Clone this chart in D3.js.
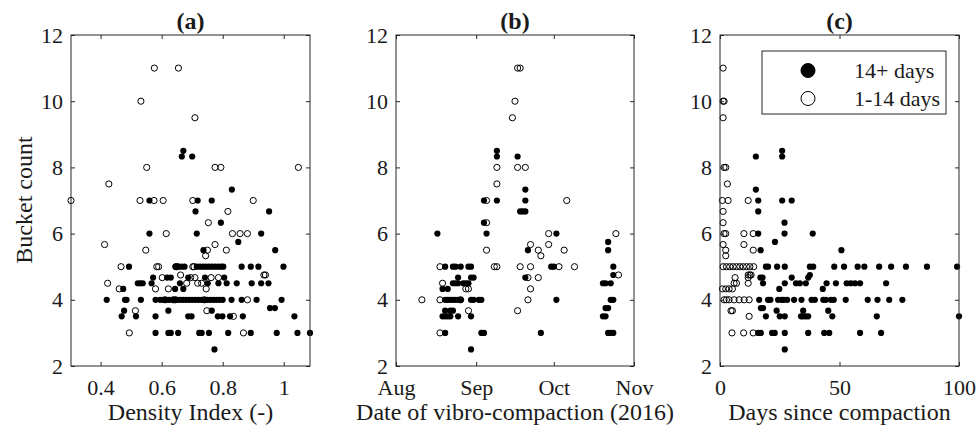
<!DOCTYPE html>
<html>
<head>
<meta charset="utf-8">
<script src="https://cdn.jsdelivr.net/npm/d3@7"></script>
<style>
  body { margin: 0; background: #fff; }
  svg text { font-family: "Liberation Serif", "Times New Roman", serif; fill: #1a1a1a; }
</style>
</head>
<body>
<svg id="chart" width="976" height="431"></svg>
<script>
// ---- data ----
var yTicks = [2, 4, 6, 8, 10, 12];
var densityTicks = [0.4, 0.6, 0.8, 1];
var dateTicks = ["2016-08-01", "2016-09-01", "2016-10-01", "2016-11-01"];
var daysTicks = [0, 50, 100];
var panelTitles = ["(a)", "(b)", "(c)"];
var xLabels = ["Density Index (-)", "Date of vibro-compaction (2016)", "Days since compaction"];
var legendLabels = ["14+ days", "1-14 days"];

// (a) density index vs bucket count
var densityFilled = [
  [0.58,3],[0.622,3],[0.63,3],[0.654,3],[0.723,3],[0.731,3],[0.755,3],[0.818,3],[0.892,3],[0.977,3],[1.045,3],[1.086,3],
  [0.773,2.5],
  [0.469,3.5],[0.516,3.5],[0.58,3.5],[0.687,3.5],[0.698,3.5],[0.784,3.5],[0.799,3.5],[0.824,3.5],[0.866,3.5],[1.035,3.5],
  [0.477,3.67],[0.622,3.67],[0.764,3.67],[0.955,3.75],[0.971,3.75],
  [0.42,4],[0.48,4],[0.485,4],[0.532,4],[0.58,4],[0.595,4],[0.605,4],[0.615,4],[0.625,4],[0.64,4],[0.65,4],[0.66,4],
  [0.67,4],[0.68,4],[0.69,4],[0.7,4],[0.71,4],[0.72,4],[0.73,4],[0.74,4],[0.75,4],[0.76,4],[0.77,4],[0.78,4],[0.79,4],
  [0.8,4],[0.829,4],[0.862,4],[0.911,4],[0.993,4],
  [0.474,4.33],[0.644,4.33],[0.671,4.33],
  [0.522,4.5],[0.53,4.5],[0.538,4.5],[0.567,4.5],[0.66,4.5],[0.751,4.5],[0.786,4.5],[0.813,4.5],[0.846,4.5],[0.895,4.5],[0.926,4.5],[0.95,4.5],
  [0.572,4.67],[0.618,4.67],[0.63,4.67],[0.687,4.67],[0.742,4.67],[0.805,4.67],
  [0.493,5],[0.645,5],[0.655,5],[0.665,5],[0.675,5],[0.715,5],[0.725,5],[0.735,5],[0.745,5],[0.755,5],[0.765,5],[0.775,5],
  [0.785,5],[0.795,5],[0.802,5],[0.862,5],[0.892,5],[0.917,5],[0.999,5],
  [0.737,5.5],[0.972,5.5],[0.851,5.75],[0.56,6],[0.715,6],[0.926,6],[0.794,6.33],[0.711,6.67],[0.952,6.67],
  [0.56,7],[0.718,7],[0.764,7],[0.83,7.33],[0.666,8.33],[0.7,8.33],[0.671,8.5]
];
var densityOpen = [
  [0.494,3],[0.868,3],[0.835,3.5],[0.514,3.67],[0.748,3.67],
  [0.611,4],[0.638,4],[0.645,4],[0.74,4],[0.881,4],
  [0.461,4.33],[0.58,4.33],[0.622,4.33],[0.746,4.33],
  [0.423,4.5],[0.682,4.5],[0.718,4.5],[0.731,4.5],
  [0.602,4.67],[0.695,4.67],[0.709,4.67],[0.762,4.67],[0.786,4.67],
  [0.662,4.75],[0.935,4.75],[0.94,4.75],
  [0.467,5],[0.584,5],[0.59,5],[0.647,5],[0.651,5],[0.702,5],[0.706,5],
  [0.744,5.33],[0.548,5.5],[0.75,5.5],[0.812,5.5],[0.413,5.67],[0.775,5.67],
  [0.615,6],[0.832,6],[0.857,6],[0.881,6],[0.753,6.33],[0.817,6.67],
  [0.303,7],[0.529,7],[0.575,7],[0.605,7],[0.702,7],[0.9,7],[0.427,7.5],
  [0.551,8],[0.775,8],[0.794,8],[1.048,8],[0.709,9.5],[0.532,10],[0.576,11],[0.655,11]
];

// (b) compaction date vs bucket count
var dateFilled = [
  ["2016-08-17",6],["2016-08-20",3],["2016-08-19",4.33],["2016-08-21",4.33],
  ["2016-08-20",4],["2016-08-21",4],["2016-08-22",4],["2016-08-23",4],["2016-08-24",4],["2016-08-25",4],["2016-08-26",4],
  ["2016-08-19",3.5],["2016-08-20",3.5],["2016-08-21",3.5],["2016-08-22",3.5],["2016-08-25",3.5],
  ["2016-08-20",3.67],["2016-08-22",3.67],["2016-08-23",3.67],
  ["2016-08-20",5],["2016-08-23",5],["2016-08-24",5],["2016-08-26",5],
  ["2016-08-23",4.5],["2016-08-24",4.5],["2016-08-25",4.5],["2016-08-27",4.5],["2016-08-28",4.5],["2016-08-29",4.5],
  ["2016-08-25",4.67],["2016-08-30",4.67],["2016-08-31",4.67],["2016-08-29",5],["2016-08-30",5],
  ["2016-08-30",4],["2016-08-31",4],["2016-09-02",4],["2016-09-03",4],
  ["2016-08-30",3.5],["2016-08-30",2.5],["2016-09-03",3],["2016-09-04",3],
  ["2016-09-04",7],["2016-09-04",6.33],["2016-09-05",6],
  ["2016-09-09",8.5],["2016-09-09",8.33],["2016-09-09",7],
  ["2016-09-17",8.33],["2016-09-18",6.67],["2016-09-19",6.67],["2016-09-20",6.67],["2016-09-20",7.33],["2016-09-20",7],
  ["2016-09-20",4.67],["2016-09-21",5.5],["2016-09-26",3],["2016-09-30",5],["2016-10-01",5],["2016-10-02",6],["2016-10-02",4],
  ["2016-10-20",3.5],["2016-10-21",3.5],["2016-10-20",4.5],["2016-10-21",4.5],["2016-10-23",4.5],
  ["2016-10-21",3.75],["2016-10-22",3.75],["2016-10-22",5.75],["2016-10-22",5.5],
  ["2016-10-23",4],["2016-10-24",4],["2016-10-22",3],["2016-10-23",3],["2016-10-24",3],["2016-10-24",5],["2016-10-24",4.75]
];
var dateOpen = [
  ["2016-08-11",4],["2016-08-18",5],["2016-08-18",3],["2016-08-18",4],["2016-08-19",4.5],
  ["2016-08-26",4],["2016-08-28",4.33],["2016-08-29",4.33],["2016-08-29",3.67],
  ["2016-09-05",7],["2016-09-05",6.33],["2016-09-05",5.5],["2016-09-08",5],["2016-09-09",5],
  ["2016-09-09",8],["2016-09-09",7.5],["2016-09-15",9.5],["2016-09-16",10],["2016-09-17",11],["2016-09-18",11],
  ["2016-09-17",8],["2016-09-17",3.67],["2016-09-18",5],["2016-09-20",8],["2016-09-21",4.67],["2016-09-21",4],
  ["2016-09-22",5.67],["2016-09-22",5],["2016-09-22",4.33],["2016-09-25",5.5],["2016-09-25",4.67],["2016-09-26",5.33],
  ["2016-09-29",6],["2016-09-29",5.67],["2016-10-03",5],["2016-10-05",5.5],["2016-10-06",7],["2016-10-09",5],
  ["2016-10-25",6],["2016-10-26",4.75]
];

// (c) days since compaction vs bucket count
var daysFilled = [
  [26,8.5],[15,8.33],[26,8.33],[15,7.33],[16,7],[26,7],[30,7],[16,6.67],[27,6.33],[16,6],[27,6],[38.8,6],
  [23,5.75],[17,5.5],[50.8,5.5],
  [19.2,5],[20.1,5],[23.9,5],[27.1,5],[37.6,5],[39,5],[47.8,5],[51.9,5],[57.6,5],[60.4,5],[66.6,5],[71.6,5],[77.8,5],[86.6,5],[99.2,5],
  [37.6,4.75],[16.9,4.67],[17.8,4.67],[30,4.67],[36.9,4.67],
  [18,4.5],[27.1,4.5],[31.8,4.5],[33.4,4.5],[35.9,4.5],[44.6,4.5],[48.5,4.5],[53,4.5],[54.7,4.5],[56.5,4.5],[58.6,4.5],[69.5,4.5],
  [24.8,4.33],[43,4.33],
  [16.4,4],[20.1,4],[21.1,4],[24.3,4],[25.8,4],[26.7,4],[28.1,4],[31,4],[34.1,4],[38.3,4],[39.7,4],[43.2,4],[44.3,4],
  [46.4,4],[47.6,4],[52.6,4],[61.8,4],[65.9,4],[70.8,4],[76.3,4],
  [17.1,3.75],[18,3.75],[23.7,3.67],[34.8,3.67],[45.3,3.67],
  [19.2,3.5],[25,3.5],[27.1,3.5],[33.9,3.5],[34.8,3.5],[35.9,3.5],[36.9,3.5],[47,3.5],[65.6,3.5],[100,3.5],
  [16,3],[17.1,3],[21.8,3],[22.9,3],[27.1,3],[36.9,3],[43.6,3],[45.7,3],[58.6,3],[67.4,3],[27.1,2.5]
];
var daysOpen = [
  [1.3,11],[1.3,10],[1.7,10],[1.3,9.5],[1.7,8],[2.4,8],[3.1,7.5],[1,7],[3.4,7],[11.8,7],[1.3,6.67],[1.3,6.33],
  [1.7,6],[2.4,6],[10,6],[13.9,6],[1.3,5.67],[10,5.67],[2.4,5.5],[13.9,5.5],[2.4,5.33],
  [1.3,5],[2.7,5],[4.1,5],[5.5,5],[6.9,5],[8.3,5],[9.7,5],[11.1,5],[12.5,5],[14.1,5],
  [11.8,4.75],[12.5,4.75],[13,4.75],[6.3,4.67],[11.8,4.67],[5.9,4.5],[6.9,4.5],[11.8,4.5],
  [1,4.33],[2.4,4.33],[3.8,4.33],[5.2,4.33],
  [1.7,4],[2.7,4],[3.8,4],[5.9,4],[8,4],[10.1,4],[12.2,4],
  [4.6,3.67],[5.2,3.67],[12.2,3.5],[5,3],[9.9,3],[13.9,3]
];

// ---- layout ----
var svg = d3.select("#chart");
var TOP = 35, BOTTOM = 366, TICK = 4, R = 3.1;
var parseDate = d3.timeParse("%Y-%m-%d");

var y = d3.scaleLinear().domain([2, 12]).range([BOTTOM, TOP]);

var panels = [
  { left: 71, right: 310,
    x: d3.scaleLinear().domain([0.303, 1.086]),
    ticks: densityTicks, fmt: function (d) { return d3.format("~g")(d); },
    filled: densityFilled, open: densityOpen, val: function (d) { return d; } },
  { left: 396, right: 634,
    x: d3.scaleTime().domain([parseDate("2016-08-01"), parseDate("2016-11-01")]),
    ticks: dateTicks.map(parseDate), fmt: d3.timeFormat("%b"),
    filled: dateFilled, open: dateOpen, val: function (d) { return parseDate(d); } },
  { left: 720, right: 959,
    x: d3.scaleLinear().domain([0, 100]),
    ticks: daysTicks, fmt: function (d) { return d; },
    filled: daysFilled, open: daysOpen, val: function (d) { return d; } }
];

panels.forEach(function (p, i) {
  p.x.range([p.left, p.right]);
  var g = svg.append("g").attr("class", "panel");

  // points: 14+ days filled, 1-14 days open
  g.selectAll(".filled").data(p.filled).enter().append("circle")
    .attr("class", "filled")
    .attr("cx", function (d) { return p.x(p.val(d[0])); })
    .attr("cy", function (d) { return y(d[1]); })
    .attr("r", R)
    .attr("fill", "#000");
  g.selectAll(".open").data(p.open).enter().append("circle")
    .attr("class", "open")
    .attr("cx", function (d) { return p.x(p.val(d[0])); })
    .attr("cy", function (d) { return y(d[1]); })
    .attr("r", R)
    .attr("fill", "none")
    .attr("stroke", "#000")
    .attr("stroke-width", 1);

  // axes, ticks pointing in, box on
  var bottom = d3.axisBottom(p.x).tickValues(p.ticks).tickFormat(p.fmt).tickSizeInner(-TICK).tickSizeOuter(0).tickPadding(13);
  var topAx = d3.axisTop(p.x).tickValues(p.ticks).tickFormat("").tickSizeInner(-TICK).tickSizeOuter(0);
  var left = d3.axisLeft(y).tickValues(yTicks).tickSizeInner(-TICK).tickSizeOuter(0).tickPadding(8);
  var right = d3.axisRight(y).tickValues(yTicks).tickFormat("").tickSizeInner(-TICK).tickSizeOuter(0);

  var gb = g.append("g").attr("transform", "translate(0," + BOTTOM + ")").call(bottom);
  var gt = g.append("g").attr("transform", "translate(0," + TOP + ")").call(topAx);
  var gl = g.append("g").attr("transform", "translate(" + p.left + ",0)").call(left);
  var gr = g.append("g").attr("transform", "translate(" + p.right + ",0)").call(right);

  [gb, gt, gl, gr].forEach(function (a) {
    a.select(".domain").remove();
    a.selectAll("line").attr("stroke", "#262626");
    a.selectAll("text").style("font-size", "22px").attr("fill", "#1a1a1a");
  });

  g.append("rect")
    .attr("x", p.left).attr("y", TOP)
    .attr("width", p.right - p.left).attr("height", BOTTOM - TOP)
    .attr("fill", "none").attr("stroke", "#262626").attr("stroke-width", 1);

  g.append("text")
    .attr("x", (p.left + p.right) / 2).attr("y", 29)
    .attr("text-anchor", "middle")
    .style("font-size", "24px").style("font-weight", "bold")
    .text(panelTitles[i]);

  g.append("text")
    .attr("x", (p.left + p.right) / 2).attr("y", 420)
    .attr("text-anchor", "middle")
    .style("font-size", "24px")
    .text(xLabels[i]);
});

svg.append("text")
  .attr("transform", "translate(32,200) rotate(-90)")
  .attr("text-anchor", "middle")
  .style("font-size", "24px")
  .text("Bucket count");

// legend in panel (c)
var lg = svg.append("g").attr("transform", "translate(762,51)");
lg.append("rect").attr("width", 184).attr("height", 63)
  .attr("fill", "#fff").attr("stroke", "#262626").attr("stroke-width", 1);
legendLabels.forEach(function (t, i) {
  lg.append("circle")
    .attr("cx", 46).attr("cy", 19.5 + i * 28).attr("r", 7)
    .attr("fill", i === 0 ? "#000" : "none")
    .attr("stroke", "#000").attr("stroke-width", 1);
  lg.append("text")
    .attr("x", 92).attr("y", 26.5 + i * 28)
    .style("font-size", "22px")
    .text(t);
});
</script>
</body>
</html>
